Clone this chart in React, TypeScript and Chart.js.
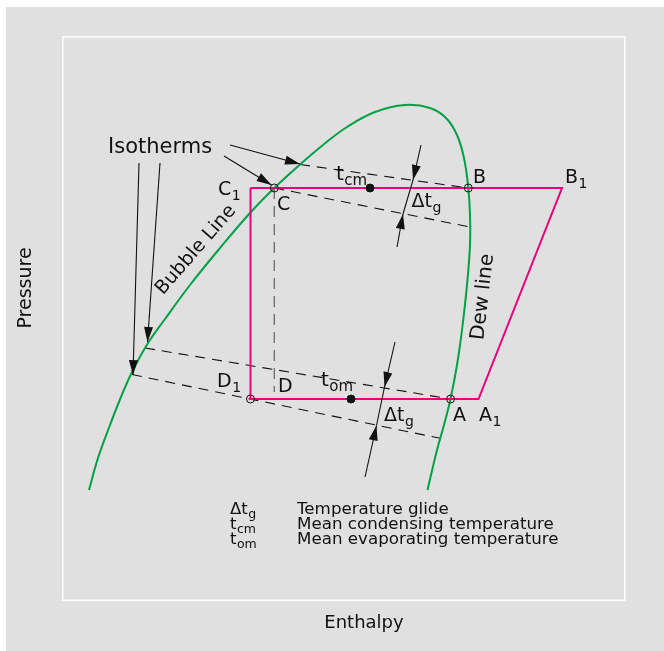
import React, { useEffect, useRef } from "react";
import { Chart, registerables } from "chart.js";
Chart.register(...registerables);

const FONT = '"DejaVu Sans", sans-serif';
const GREEN = "#00a046";
const PINK = "#e6007e";
const INK = "#111111";

// Saturation dome: bubble line (left, rising) and dew line (right, falling)
const domeH = [27, 36, 48, 59, 71, 86, 103, 128, 158, 188, 212.3, 238, 261, 285, 313, 343, 368, 384, 395, 402, 406.3, 408, 408, 405, 400, 395, 388.5, 382, 375, 365.5];
const domeP = [109, 141, 174, 202, 229, 256, 280, 314, 351, 386, 411, 434.5, 454, 472, 487, 494, 491, 481, 464, 441, 411, 384, 354, 314, 269, 234, 200, 174, 149, 109];

// Refrigeration cycle C1 -> B1 -> A1 -> D1 -> C1
const cycleH = [188.5, 500, 416.5, 188.5, 188.5];
const cycleP = [411, 411, 200, 200, 411];

// Isotherms (dashed)
const isoH = [[238, 406.3], [212.3, 408], [83, 388.5], [70, 378]];
const isoP = [[434.5, 411], [411, 372], [251, 200], [224.5, 160.7]];

// Vertical dashed line C -> D
const vertH = [212.3, 212.3];
const vertP = [411, 207];

// Arrows (from -> to, head at the end)
const arrowH = [[168, 238], [162, 209.5], [98, 85.5], [77, 71], [359, 351], [335, 341], [333, 322.5], [303, 314.5]];
const arrowP = [[454, 435], [443, 414], [436, 257], [436, 224], [454, 419], [352, 385], [257, 212], [122, 173.5]];

// Glide measurement lines between arrows
const extH = [[351, 341], [322.5, 314.5]];
const extP = [[419, 385], [212, 173.5]];

// State points
const openH = [212.3, 406.3, 188.5, 388.5];
const openP = [411, 411, 200, 200];
const dotH = [308, 289];
const dotP = [411, 200];

// Labels: main text, subscript, h, p (left/baseline), size
const labelMain = ["Isotherms", "C", "C", "B", "B", "t", "\u0394t", "D", "D", "t", "\u0394t", "A", "A"];
const labelSub = ["", "1", "", "", "1", "cm", "g", "1", "", "om", "g", "", "1"];
const labelH = [46, 156, 215, 411, 503, 274, 349.5, 155, 216, 259, 322, 391, 417];
const labelP = [446, 404, 389, 416, 416, 419, 392, 212, 207, 213, 178, 178, 178];
const labelSize = [21, 19, 19, 19, 19, 20, 19, 19, 19, 20, 19, 19, 19];

const legendSym = ["\u0394t", "t", "t"];
const legendSub = ["g", "cm", "om"];
const legendText = ["Temperature glide", "Mean condensing temperature", "Mean evaporating temperature"];
const legendP = [85, 70, 55];
const legendSymH = 168;
const legendTextH = 235;

const pts = (hs: number[], ps: number[]) => hs.map((h, i) => ({ x: h, y: ps[i] }));

export default function App() {
  const ref = useRef<HTMLCanvasElement | null>(null);
  useEffect(() => {
    if (!ref.current) return;
    const lineDs = (data: any, color: string, width: number, extra: any = {}) => ({
      data, borderColor: color, borderWidth: width, showLine: true, pointRadius: 0, tension: 0, fill: false, ...extra,
    });
    const datasets: any[] = [];
    datasets.push({ data: pts(openH, openP), showLine: false, pointRadius: 4, pointStyle: "circle", borderColor: INK, borderWidth: 1, backgroundColor: "rgba(0,0,0,0)" });
    datasets.push({ data: pts(dotH, dotP), showLine: false, pointRadius: 4, pointStyle: "circle", borderColor: INK, borderWidth: 1, backgroundColor: INK });
    arrowH.forEach((hs, i) => datasets.push(lineDs(pts(hs, arrowP[i]), INK, 1.1, { arrowHead: true })));
    extH.forEach((hs, i) => datasets.push(lineDs(pts(hs, extP[i]), INK, 1.1)));
    datasets.push(lineDs(pts(cycleH, cycleP), PINK, 2));
    datasets.push(lineDs(pts(domeH, domeP), GREEN, 2, { tension: 0.4 }));
    isoH.forEach((hs, i) => datasets.push(lineDs(pts(hs, isoP[i]), INK, 1.1, { borderDash: [10, 7] })));
    datasets.push(lineDs(pts(vertH, vertP), "#6a6a6a", 1.3, { borderDash: [11, 7] }));

    const bgPlugin = {
      id: "bg",
      beforeDraw(chart: any) {
        const { ctx, chartArea: a } = chart;
        ctx.save();
        ctx.fillStyle = "#ffffff";
        ctx.fillRect(0, 0, chart.width, chart.height);
        ctx.fillStyle = "#e0e0e0";
        ctx.fillRect(6, 7, chart.width - 6, chart.height - 7);
        ctx.strokeStyle = "#ffffff";
        ctx.lineWidth = 1.5;
        ctx.strokeRect(a.left + 0.75, a.top + 0.75, a.right - a.left, a.bottom - a.top + 0.5);
        ctx.restore();
      },
    };

    const arrowPlugin = {
      id: "arrows",
      afterDatasetsDraw(chart: any) {
        const ctx = chart.ctx;
        chart.data.datasets.forEach((ds: any, i: number) => {
          if (!ds.arrowHead) return;
          const d = chart.getDatasetMeta(i).data;
          const p1 = d[d.length - 2], p2 = d[d.length - 1];
          const ang = Math.atan2(p2.y - p1.y, p2.x - p1.x);
          const L = 15, W = 4.5;
          ctx.save();
          ctx.translate(p2.x, p2.y);
          ctx.rotate(ang);
          ctx.beginPath();
          ctx.moveTo(0, 0);
          ctx.lineTo(-L, -W);
          ctx.lineTo(-L, W);
          ctx.closePath();
          ctx.fillStyle = INK;
          ctx.fill();
          ctx.restore();
        });
      },
    };

    const textPlugin = {
      id: "texts",
      afterDraw(chart: any) {
        const ctx = chart.ctx;
        const xs = chart.scales.x, ys = chart.scales.y;
        const X = (h: number) => xs.getPixelForValue(h);
        const Y = (p: number) => ys.getPixelForValue(p);
        ctx.save();
        ctx.fillStyle = INK;
        ctx.textBaseline = "alphabetic";
        ctx.textAlign = "left";
        const withSub = (x: number, y: number, main: string, sub: string, size: number, subSize: number, drop: number) => {
          ctx.font = `${size}px ${FONT}`;
          ctx.fillText(main, x, y);
          if (sub) {
            const w = ctx.measureText(main).width;
            ctx.font = `${subSize}px ${FONT}`;
            ctx.fillText(sub, x + w + 0.5, y + drop);
          }
        };
        labelMain.forEach((m, i) => {
          const s = labelSize[i];
          withSub(X(labelH[i]), Y(labelP[i]), m, labelSub[i], s, Math.round(s * 0.75), Math.round(s * 0.25));
        });
        legendSym.forEach((m, i) => {
          withSub(X(legendSymH), Y(legendP[i]), m, legendSub[i], 16.5, 12.5, 4);
          ctx.font = `16.7px ${FONT}`;
          ctx.fillText(legendText[i], X(legendTextH), Y(legendP[i]));
        });
        // rotated curve labels
        const rot = (text: string, h: number, p: number, deg: number, size: number) => {
          ctx.save();
          ctx.translate(X(h), Y(p));
          ctx.rotate((deg * Math.PI) / 180);
          ctx.font = `${size}px ${FONT}`;
          ctx.textAlign = "center";
          ctx.textBaseline = "middle";
          ctx.fillText(text, 0, 0);
          ctx.restore();
        };
        rot("Bubble Line", 134, 349, -49, 19);
        rot("Dew line", 421, 302, -83.5, 20);
        // axis titles
        const a = chart.chartArea;
        ctx.font = `18px ${FONT}`;
        ctx.textAlign = "center";
        ctx.textBaseline = "middle";
        ctx.fillText("Enthalpy", X(302), a.bottom + 24);
        ctx.save();
        ctx.translate(26, Y(311));
        ctx.rotate(-Math.PI / 2);
        ctx.font = `19px ${FONT}`;
        ctx.fillText("Pressure", 0, 0);
        ctx.restore();
        ctx.restore();
      },
    };

    const chart = new Chart(ref.current, {
      type: "scatter",
      data: { datasets },
      options: {
        animation: false,
        responsive: false,
        maintainAspectRatio: false,
        devicePixelRatio: 1,
        events: [],
        layout: { padding: { left: 62, top: 36, right: 40, bottom: 52 } },
        plugins: { legend: { display: false }, tooltip: { enabled: false } },
        scales: {
          x: { type: "linear", min: 0, max: 562, display: false },
          y: { type: "linear", min: 0, max: 563, display: false },
        },
      },
      plugins: [bgPlugin, arrowPlugin, textPlugin],
    } as any);
    return () => chart.destroy();
  }, []);
  return (
    <div style={{ position: "absolute", left: 0, top: 0, width: 664, height: 651 }}>
      <canvas ref={ref} width={664} height={651} style={{ width: 664, height: 651, display: "block" }} />
    </div>
  );
}
